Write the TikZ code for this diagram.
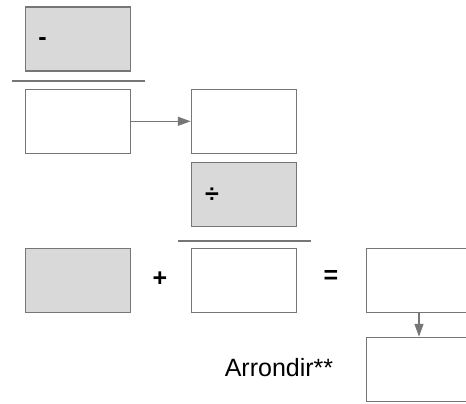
\documentclass[tikz,border=0pt]{standalone}
\usepackage{fontspec}
\setmainfont{Liberation Sans}
\usetikzlibrary{arrows.meta}
\definecolor{edgegray}{HTML}{767676}
\definecolor{boxfill}{HTML}{D9D9D9}
\begin{document}
\begin{tikzpicture}[x=1pt,y=-1pt,
  box/.style={draw=edgegray,line width=1.5pt,minimum width=105pt,minimum height=64pt,inner sep=0pt,fill=white},
  graybox/.style={box,fill=boxfill},
  sym/.style={inner sep=0pt,font=\fontsize{25}{30}\selectfont,text=black},
  bsym/.style={sym,font=\fontsize{25}{30}\selectfont\bfseries},
  bar/.style={draw=edgegray,line width=1.4pt},
  conn/.style={draw=edgegray,line width=1.4pt,-{Triangle[length=13pt,width=9pt]}}]
\path[use as bounding box,clip] (0,0) rectangle (466,404);
\node[graybox] (A) at (77.75,39) {};
\node[box] (B) at (77.75,121.3) {};
\node[box] (C) at (244,121.3) {};
\node[graybox] (D) at (244,194.5) {};
\node[graybox] (E) at (78,280.5) {};
\node[box] (F) at (244,280.5) {};
\node[box] (G) at (419,280.5) {};
\node[box] (H) at (419,369.5) {};
\node[bsym] (minus) at (42.5,42) {-};
\node[bsym] (div) at (212,195) {÷};
\node[bsym] (plus) at (160,279.5) {+};
\node[bsym] (eq) at (331,277) {=};
\node[sym,anchor=base] (arr) at (279,376) {Arrondir**};
\coordinate (b1l) at (12,81); \coordinate (b1r) at (145,81);
\coordinate (b2l) at (178,241); \coordinate (b2r) at (311,241);
\draw[bar] (b1l) -- (b1r);
\draw[bar] (b2l) -- (b2r);
\draw[conn] (B.east) -- (C.west);
\draw[conn] (G.south) -- (H.north);
\end{tikzpicture}
\end{document}
